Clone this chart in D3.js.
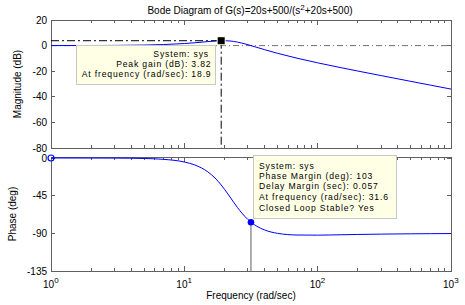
<!DOCTYPE html>
<html><head><meta charset="utf-8">
<script src="https://cdn.jsdelivr.net/npm/d3@7"></script>
<style>
html,body{margin:0;padding:0;background:#fff;}
text{font-family:"Liberation Sans",Arial,sans-serif;font-size:10px;fill:#000;}
text.tip{font-size:8.6px;letter-spacing:0.85px;}
</style></head><body>
<svg id="c" width="465" height="305"></svg>
<script>
// ---- data ----
const freqs    = [1, 2, 3, 5, 7, 10, 12, 15, 17, 18.9, 20, 22, 25, 27, 30, 35, 40, 50, 70, 100, 150, 200, 300, 500, 700, 1000];
const magDb    = [0.02, 0.07, 0.16, 0.43, 0.82, 1.61, 2.22, 3.12, 3.59, 3.82, 3.82, 3.60, 2.75, 1.97, 0.69, -1.38, -3.18, -6.02, -9.84, -13.46, -17.27, -19.87, -23.46, -27.94, -30.87, -33.97];
const phaseDeg = [0, -0.04, -0.12, -0.58, -1.6, -4.76, -8.35, -16.53, -23.96, -32.22, -37.3, -46.57, -59.04, -65.78, -73.5, -81.55, -85.98, -90.0, -92.0, -92.15, -91.7, -91.35, -90.93, -90.57, -90.41, -90.29];
const magTicks   = [20, 0, -20, -40, -60, -80];
const phaseTicks = [0, -45, -90, -135];
const decades    = [0, 1, 2, 3];
const peak  = {freq: 18.9, gain: 3.82};
const pm    = {freq: 31.6, phase: -76.7, margin: 103, delay: 0.057};
const magTip   = ["System: sys", "Peak gain (dB): 3.82", "At frequency (rad/sec): 18.9"];
const phaseTip = ["System: sys", "Phase Margin (deg): 103", "Delay Margin (sec): 0.057", "At frequency (rad/sec): 31.6", "Closed Loop Stable? Yes"];

const svg = d3.select("#c");
const L = 51, R = 451;
const x = d3.scaleLog().domain([1, 1000]).range([L, R]);
const yM = d3.scaleLinear().domain([-80, 20]).range([148, 20]);
const yP = d3.scaleLinear().domain([-135, 1.2]).range([271, 157]);
const axisCol = "#606060";

const minors = [];
for (let d = 0; d < 3; d++) for (let k = 2; k <= 9; k++) minors.push(k * Math.pow(10, d));

function tick(g, x1, y1, x2, y2) {
  g.append("line").attr("x1", x1).attr("x2", x2).attr("y1", y1).attr("y2", y2)
    .attr("stroke", axisCol).attr("shape-rendering", "crispEdges");
}
function frame(y, top, bottom, yticks) {
  const g = svg.append("g");
  g.append("rect").attr("x", L).attr("y", top).attr("width", R - L).attr("height", bottom - top)
    .attr("fill", "#fff").attr("stroke", axisCol).attr("stroke-width", 1).attr("shape-rendering", "crispEdges");
  minors.forEach(v => { tick(g, x(v), bottom, x(v), bottom - 3); tick(g, x(v), top, x(v), top + 3); });
  decades.forEach(d => {
    const v = Math.pow(10, d);
    tick(g, x(v), bottom, x(v), bottom - 5); tick(g, x(v), top, x(v), top + 5);
  });
  yticks.forEach(v => {
    tick(g, L, y(v), L + 4, y(v)); tick(g, R, y(v), R - 4, y(v));
    g.append("text").attr("x", L - 4).attr("y", y(v) + 3.5).attr("text-anchor", "end").text(v);
  });
  return g;
}

// ---- magnitude plot ----
frame(yM, 20, 148, magTicks);
svg.append("line").attr("x1", L).attr("x2", R).attr("y1", yM(0)).attr("y2", yM(0))
  .attr("stroke", "#707070").attr("stroke-dasharray", "6,3,1,3");
const lineM = d3.line().x((d, i) => x(freqs[i])).y(d => yM(d)).curve(d3.curveMonotoneX);
svg.append("path").datum(magDb).attr("d", lineM).attr("fill", "none").attr("stroke", "#0000ff").attr("stroke-width", 1);
svg.append("line").attr("x1", L).attr("x2", x(peak.freq)).attr("y1", yM(peak.gain)).attr("y2", yM(peak.gain))
  .attr("stroke", "#000").attr("stroke-dasharray", "8,3,2,3");
svg.append("line").attr("x1", x(peak.freq)).attr("x2", x(peak.freq)).attr("y1", yM(peak.gain)).attr("y2", 148)
  .attr("stroke", "#000").attr("stroke-dasharray", "8,3,2,3");
svg.append("rect").attr("x", 76.5).attr("y", 45.5).attr("width", 139).attr("height", 39)
  .attr("fill", "#ffffe6").attr("stroke", "#c8c8c8");
const magTipX = [209, 211.5, 211.5];
magTip.forEach((t, i) => svg.append("text").attr("class", "tip").attr("x", magTipX[i]).attr("y", 57 + i * 10).attr("text-anchor", "end").text(t));
svg.append("rect").attr("x", x(peak.freq) - 4.5).attr("y", yM(peak.gain) - 4.5).attr("width", 9).attr("height", 9)
  .attr("fill", "#ffffe6");
svg.append("rect").attr("x", x(peak.freq) - 3.5).attr("y", yM(peak.gain) - 3.5).attr("width", 7).attr("height", 7)
  .attr("fill", "#000");

// ---- phase plot ----
frame(yP, 157, 271, phaseTicks);
const lineP = d3.line().x((d, i) => x(freqs[i])).y(d => yP(d)).curve(d3.curveMonotoneX);
svg.append("path").datum(phaseDeg).attr("d", lineP).attr("fill", "none").attr("stroke", "#0000ff").attr("stroke-width", 1);
svg.append("line").attr("x1", x(pm.freq)).attr("x2", x(pm.freq)).attr("y1", yP(pm.phase)).attr("y2", 271)
  .attr("stroke", "#606060");
svg.append("circle").attr("cx", x(1)).attr("cy", yP(0)).attr("r", 3).attr("fill", "none").attr("stroke", "#0000ff").attr("stroke-width", 1.2);
svg.append("rect").attr("x", 253.5).attr("y", 155.5).attr("width", 143).attr("height", 63)
  .attr("fill", "#ffffe6").attr("stroke", "#c8c8c8");
const phaseTipY = [168.5, 178.5, 188.5, 200, 210.5];
phaseTip.forEach((t, i) => svg.append("text").attr("class", "tip").attr("x", 259).attr("y", phaseTipY[i]).text(t));
svg.append("circle").attr("cx", x(pm.freq)).attr("cy", yP(pm.phase)).attr("r", 3.3).attr("fill", "#0000ff");

// x tick labels
decades.forEach(d => {
  const t = svg.append("text").attr("x", x(Math.pow(10, d)) - 8).attr("y", 288);
  t.append("tspan").text("10");
  t.append("tspan").attr("dy", -5).attr("font-size", "8px").text(d);
});

// titles
const title = svg.append("text").attr("x", 250).attr("y", 14).attr("text-anchor", "middle").attr("font-size", "10.2px");
title.append("tspan").text("Bode Diagram of G(s)=20s+500/(s");
title.append("tspan").attr("dy", -4).attr("font-size", "8px").text("2");
title.append("tspan").attr("dy", 4).text("+20s+500)");
svg.append("text").attr("x", 251).attr("y", 299).attr("text-anchor", "middle").text("Frequency  (rad/sec)");
svg.append("text").attr("transform", "translate(21,84) rotate(-90)").attr("text-anchor", "middle").text("Magnitude (dB)");
svg.append("text").attr("transform", "translate(16,214) rotate(-90)").attr("text-anchor", "middle").text("Phase (deg)");
</script></body></html>
